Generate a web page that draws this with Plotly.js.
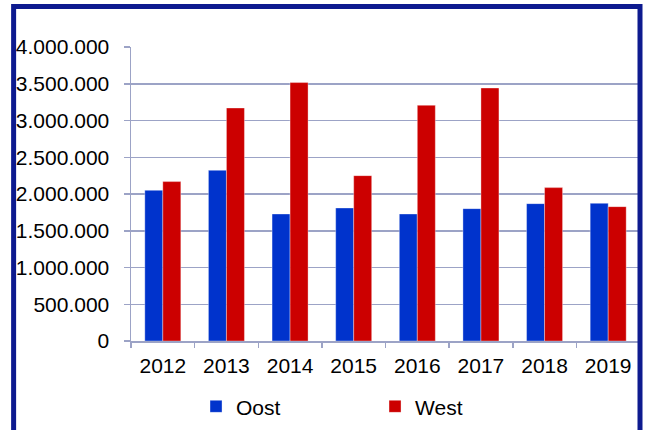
<!DOCTYPE html>
<html>
<head>
<meta charset="utf-8">
<script src="https://cdn.plot.ly/plotly-3.0.1.min.js"></script>
<style>
  html, body { margin: 0; padding: 0; background: #ffffff; }
  #chart { width: 648px; height: 430px; }
</style>
</head>
<body>
<div id="chart"></div>
<script>
// Oost / West per jaar
const years = ['2012', '2013', '2014', '2015', '2016', '2017', '2018', '2019'];
const oost = [2050000, 2322000, 1728000, 1810000, 1728000, 1801000, 1869000, 1873000];
const west = [2169000, 3170000, 3516000, 2250000, 3207000, 3442000, 2087000, 1828000];
const yTicks = [0, 500000, 1000000, 1500000, 2000000, 2500000, 3000000, 3500000, 4000000];
const yTickText = ['0', '500.000', '1.000.000', '1.500.000', '2.000.000',
                   '2.500.000', '3.000.000', '3.500.000', '4.000.000'];

const gridColor = '#9ca3c6';
const frameColor = '#0d1a8f';

const data = [
    {
        x: years, y: oost, type: 'bar', name: 'Oost',
        marker: { color: '#0033cc', line: { color: 'rgba(255,255,255,0.35)', width: 1 } },
        hoverinfo: 'skip'
    },
    {
        x: years, y: west, type: 'bar', name: 'West',
        marker: { color: '#cc0000', line: { color: 'rgba(255,255,255,0.35)', width: 1 } },
        hoverinfo: 'skip'
    }
];

const layout = {
    width: 648,
    height: 430,
    margin: { l: 130.5, r: 8, t: 47, b: 89.3, pad: 0, autoexpand: false },
    paper_bgcolor: '#ffffff',
    plot_bgcolor: '#ffffff',
    font: { family: '"Liberation Sans", Arial, sans-serif', size: 21, color: '#000000' },
    barmode: 'group',
    bargap: 0.434,
    bargroupgap: 0,
    xaxis: {
        type: 'category',
        showgrid: false,
        showline: true,
        linecolor: gridColor,
        linewidth: 1.5,
        ticks: 'outside',
        tickson: 'boundaries',
        ticklen: 5,
        tickcolor: gridColor,
        tickwidth: 1.5,
        ticklabelstandoff: 5,
        zeroline: false
    },
    yaxis: {
        range: [0, 4000000],
        tickvals: yTicks,
        ticktext: yTickText,
        showgrid: true,
        gridcolor: gridColor,
        gridwidth: 1.5,
        showline: true,
        linecolor: gridColor,
        linewidth: 1.5,
        ticks: 'outside',
        ticklen: 6,
        tickcolor: gridColor,
        tickwidth: 1.5,
        ticklabelstandoff: 10,
        zeroline: false
    },
    showlegend: true,
    legend: {
        orientation: 'h',
        xref: 'container',
        yref: 'container',
        x: 0.3025,
        xanchor: 'left',
        y: 0.0542,
        yanchor: 'middle',
        entrywidth: 134,
        entrywidthmode: 'pixels',
        font: { size: 21 },
        bgcolor: 'rgba(0,0,0,0)'
    },
    shapes: [
        {
            type: 'rect', xref: 'paper', yref: 'paper', layer: 'above',
            x0: -0.2306, x1: 1.0, y0: -0.5, y1: 1.138,
            line: { color: frameColor, width: 5 }
        }
    ]
};

Plotly.newPlot('chart', data, layout, { displayModeBar: false, staticPlot: true });
</script>
</body>
</html>
